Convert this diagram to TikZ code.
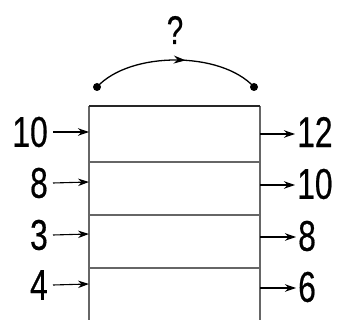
\documentclass[tikz,border=0pt]{standalone}
\usepackage{fontspec}
\newfontfamily\lblfont[FakeStretch=0.74,FakeBold=0.45]{Liberation Sans}
\usetikzlibrary{arrows.meta,decorations.markings}
\begin{document}
\begin{tikzpicture}[x=1pt,y=-1pt,
  lbl/.style={font=\lblfont\fontsize{43}{43}\selectfont, inner sep=0pt},
  boxline/.style={draw=black!60, line width=1.1pt},
  feed/.style={draw=black, line width=1.1pt, -{Stealth[length=11pt,width=7.5pt]}},
  dotend/.style={circle, fill=black, inner sep=0pt, minimum size=8pt}]
\useasboundingbox (0,0) rectangle (343,320);
% box
\draw[boxline] (89,320) -- (89,106);
\draw[boxline] (260,320) -- (260,106);
\draw[draw=black!85, line width=1.5pt] (89,106) -- (260,106);
\draw[boxline] (89,162) -- (260,162);
\draw[boxline] (89,215) -- (260,215);
\draw[boxline] (89,268) -- (260,268);
% left inputs
\node[lbl, anchor=east] (l1) at (48,132) {10};
\node[lbl, anchor=east] (l2) at (48,183) {8};
\node[lbl, anchor=east] (l3) at (48,235) {3};
\node[lbl, anchor=east] (l4) at (48,285) {4};
\coordinate (li1) at (89,132);
\coordinate (li2) at (89,182);
\coordinate (li3) at (89,234);
\coordinate (li4) at (89,284);
\draw[feed] ([xshift=5pt]l1.east) -- (li1);
\draw[feed] ([xshift=5pt]l2.east) -- (li2);
\draw[feed] ([xshift=5pt]l3.east) -- (li3);
\draw[feed] ([xshift=5pt]l4.east) -- (li4);
% right outputs
\node[lbl, anchor=west] (r1) at (297,132) {12};
\node[lbl, anchor=west] (r2) at (297,184) {10};
\node[lbl, anchor=west] (r3) at (298,236) {8};
\node[lbl, anchor=west] (r4) at (298,287) {6};
\coordinate (ro1) at (260,134);
\coordinate (ro2) at (260,185);
\coordinate (ro3) at (260,237);
\coordinate (ro4) at (260,288);
\draw[feed] (ro1) -- ([xshift=-2pt]r1.west |- ro1);
\draw[feed] (ro2) -- ([xshift=-2pt]r2.west |- ro2);
\draw[feed] (ro3) -- ([xshift=-2pt]r3.west |- ro3);
\draw[feed] (ro4) -- ([xshift=-2pt]r4.west |- ro4);
% top arc
\node[dotend] (d1) at (97,87) {};
\node[dotend] (d2) at (254,87) {};
\draw[line width=1.3pt, postaction={decorate}, decoration={markings,
  mark=at position 0.56 with {\arrow{Stealth[length=12pt,width=8pt]}}}]
  (d1.center) .. controls (130,51) and (221,51) .. (d2.center);
\node[lbl, font=\lblfont\fontsize{40}{40}\selectfont] (q) at (175,30) {?};
\end{tikzpicture}
\end{document}
